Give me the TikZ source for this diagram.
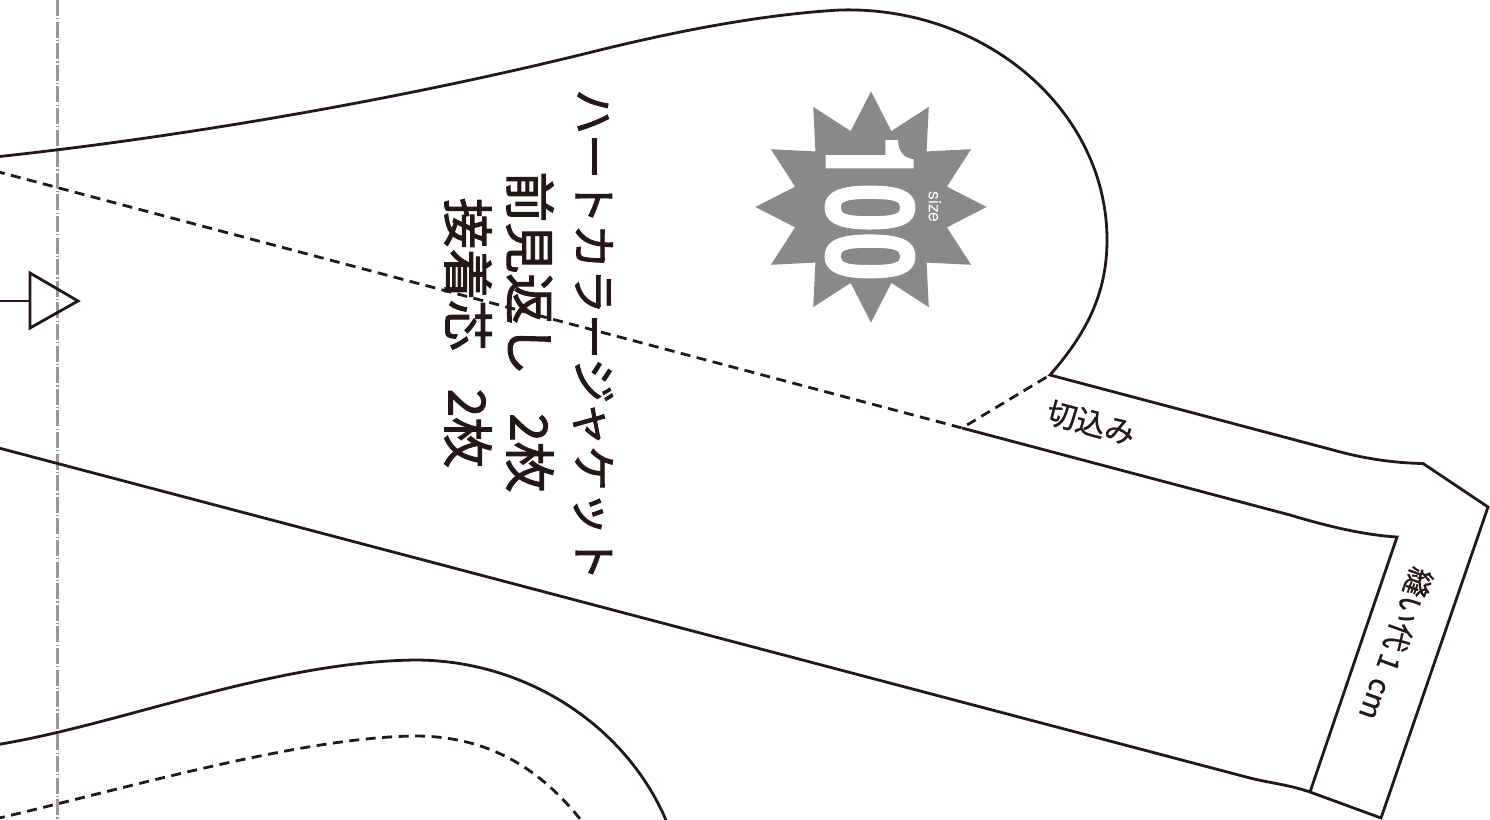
\documentclass[tikz,border=0pt]{standalone}
\usepackage{fontspec}
\setmainfont{TeX Gyre Heros}
\newfontfamily\jp[FakeBold=2]{Noto Sans CJK JP}
\newfontfamily\jps[FakeBold=0.8]{Noto Sans CJK JP}
\newfontfamily\numf[FakeBold=1.2]{TeX Gyre Heros Bold}
\definecolor{ink}{HTML}{231815}
\definecolor{stargray}{HTML}{898989}
\definecolor{foldgray}{HTML}{999999}
\tikzset{
  outline/.style={draw=ink,line width=2.8pt,line join=miter},
  seam/.style={draw=ink,line width=2.8pt,dash pattern=on 10pt off 6.5pt},
  fold/.style={draw=foldgray,line width=3pt,dash pattern=on 16pt off 2.2pt on 1.2pt off 2.2pt},
  jptext/.style={text=ink,rotate=-90,inner sep=0pt,font=\jp\fontsize{51}{51}\selectfont},
  smalljp/.style={text=ink,inner sep=0pt,font=\jps\fontsize{30}{30}\selectfont}
}
\begin{document}
\begin{tikzpicture}[x=1pt,y=-1pt]
\useasboundingbox (0,0) rectangle (1490,819);
\clip (0,0) rectangle (1490,819);
% star
\fill[stargray] (871,91.4)
  \foreach \a in {1,...,23} {
    -- ({871+(mod(\a,2)==0?115.6:78.6)*cos(90+15*\a)},{207-(mod(\a,2)==0?115.6:78.6)*sin(90+15*\a)})
  } -- cycle;
\node[rotate=-90,text=white,inner sep=0pt] (num) at (870,208) {\scalebox{0.72}[1]{\fontsize{122}{122}\selectfont\numf 100}};
\node[rotate=-90,text=white,inner sep=0pt,font=\fontsize{17.5}{17.5}\selectfont] (size) at (935,207) {size};
% fold line
\draw[fold] (57,0) -- (57,819);
% outer piece
\draw[outline] (-5,157) .. controls (200,135) and (420,95) .. (600,50)
  .. controls (690,28) and (770,14) .. (840,10)
  .. controls (985,6) and (1107,110) .. (1107,240)
  .. controls (1107,295) and (1085,335) .. (1050,375)
  -- (1333,450) .. controls (1365,459) and (1395,463) .. (1423,463.5)
  -- (1488,507) -- (1381,818) -- (1310,792)
  .. controls (1290,785) and (1270,783) .. (1250,778)
  -- (-5,447);
\draw[outline] (962,428) -- (1290,515) .. controls (1330,527) and (1365,535) .. (1397,537) -- (1310,792);
\draw[seam] (-5,171) -- (962,428) -- (1050,375);
% grain arrow
\draw[outline] (-5,301) -- (30,301);
\draw[outline] (30,273) -- (78,301) -- (30,328) -- cycle;
% lower piece
\draw[outline] (-5,745) .. controls (120,725) and (270,662) .. (415,660)
  .. controls (530,660) and (630,730) .. (668,825);
\draw[seam] (-5,819) .. controls (120,790) and (300,737) .. (415,736)
  .. controls (490,736) and (545,770) .. (590,832);
% labels
\node[jptext,font=\jp\fontsize{45}{45}\selectfont] (t1) at (593,335) {ハートカラージャケット};
\node[jptext] (t2) at (530,332) {前見返し\hspace{38pt}2枚};
\node[jptext] (t3) at (468,333) {接着芯\hspace{38pt}2枚};
\node[smalljp,rotate=-15] (t4) at (1091,423) {切込み};
\node[smalljp,font=\jps\fontsize{29}{29}\selectfont,rotate=-110] (t5) at (1396,644) {縫い代\hspace{5pt}1\hspace{10pt}cm};
\end{tikzpicture}
\end{document}
